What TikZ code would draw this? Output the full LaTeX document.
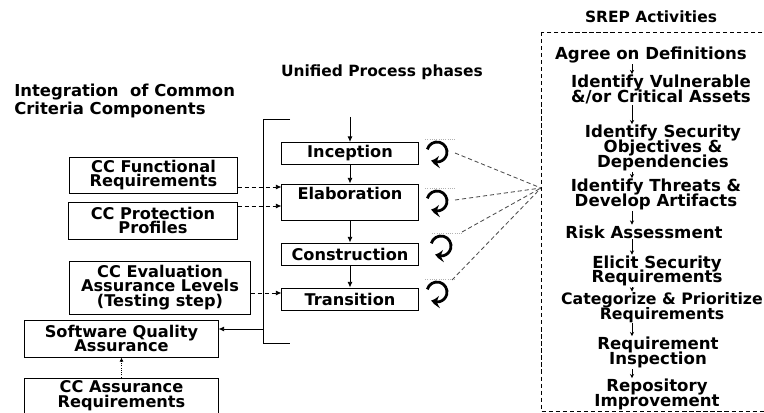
\documentclass[tikz,border=0pt]{standalone}
\usepackage{fontspec}
\setmainfont{DejaVu Sans}
\usetikzlibrary{arrows.meta,bending}

\newcommand\ccboxfont{\fontsize{11.5}{10.5}\selectfont\bfseries\lineskiplimit=-20pt\relax}
\newcommand\srepstepfont{\fontsize{11.8}{10.5}\selectfont\bfseries\lineskiplimit=-20pt\relax}
\newcommand\srepwidefont{\fontsize{11.2}{10.5}\selectfont\bfseries\lineskiplimit=-20pt\relax}
\newcommand\ccheadfont{\fontsize{11}{12.8}\selectfont\bfseries}
\newcommand\cctitlefont{\fontsize{11.7}{12.8}\selectfont\bfseries}

\tikzset{
  ccbox/.style={draw, line width=0.7pt, align=center, inner sep=0pt, font=\ccboxfont},
  phase/.style={draw, line width=0.7pt, minimum width=3.4cm, minimum height=0.55cm, inner sep=0pt, font=\ccboxfont},
  srep/.style={align=center, inner sep=0.5pt, font=\srepstepfont},
  heading/.style={align=left, inner sep=0pt, font=\ccheadfont},
  flow/.style={-{Latex[length=4pt,width=3.5pt]}, line width=0.6pt},
  cclink/.style={densely dashed, -{Latex[length=4pt,width=3.5pt]}, line width=0.6pt},
  stepflow/.style={-{Stealth[length=3pt,width=3pt]}, line width=0.6pt},
  loopy/.style={line width=2pt, -{Stealth[length=6pt,width=8.5pt,bend]}},
  hub/.style={densely dashed, line width=0.6pt, black!70}
}

\begin{document}
\begin{tikzpicture}[x=0.025cm, y=0.025cm]
\useasboundingbox (0,0) rectangle (764,-413);

% headings
\node[heading, anchor=west, font=\cctitlefont] (cchead) at (14,-101) {Integration\ \ of Common\\Criteria Components};
\node[heading] (uphead) at (382,-72) {Unified Process phases};
\node[heading] (srephead) at (651,-17) {SREP Activities};

% Common Criteria components
\node[ccbox, minimum width=4.175cm, minimum height=0.9cm] (fr) at (153.5,-175) {CC Functional\\Requirements};
\node[ccbox, minimum width=4.2cm, minimum height=0.925cm] (pp) at (153,-220.5) {CC Protection\\Profiles};
\node[ccbox, minimum width=4.5cm, minimum height=1.325cm] (eal) at (160,-287.5) {CC Evaluation\\Assurance Levels\\(Testing step)};
\node[ccbox, minimum width=4.825cm, minimum height=0.925cm] (sqa) at (121.5,-338.5) {Software Quality\\Assurance};
\node[ccbox, minimum width=4.825cm, minimum height=0.9cm] (car) at (121.5,-396) {CC Assurance\\Requirements};

% Unified Process phases
\node[phase] (inc) at (350,-153.5) {Inception};
\node[phase, minimum height=0.9cm, text height=0.39cm, text depth=0.51cm] (ela) at (350,-202) {Elaboration};
\node[phase] (con) at (350,-254) {Construction};
\node[phase] (tra) at (350,-299) {Transition};

\coordinate (upin) at (350,-117);
\draw[flow] (upin) -- (inc);
\draw[flow] (inc) -- (ela);
\draw[flow] (ela) -- (con);
\draw[flow] (con) -- (tra);

% bracket round the phases
\coordinate (brtop) at (263,-119);
\coordinate (brbot) at (263,-343);
\draw[line width=0.7pt] (290,-119) -- (brtop) -- (brbot) -- (290,-343);
\coordinate (brq) at (263,-329);
\draw[flow] (brq) -- (brq -| sqa.east);

% CC components into the phases
\coordinate (fra) at ([yshift=-0.3cm]fr.east);
\coordinate (ppa) at ([yshift=0.3625cm]pp.east);
\coordinate (eala) at ([yshift=-0.1375cm]eal.east);
\draw[cclink] (fra) -- (fra -| ela.west);
\draw[cclink] (ppa) -- (ppa -| ela.west);
\draw[cclink] (eala) -- (eala -| tra.west);
\draw[densely dotted, -{Latex[length=3pt,width=3pt]}, line width=0.6pt] (car) -- (sqa);

% iterations
\coordinate (hub) at (541,-188);
\foreach \x/\y/\lx/\dx/\dy [count=\n] in {437/152/440/18/-1, 437/201/440/18/1, 441/246/447/21/14, 437/292/440/15/12} {
  \draw[gray!60, line width=0.6pt, densely dotted] (\lx-15,13-\y) -- (\lx+15,13-\y);
  \draw[loopy] (\x,-\y) ++(165:0.25cm) arc[start angle=165, end angle=-125, radius=0.25cm];
  \coordinate (l\n) at (\x+\dx,\dy-\y);
}
\foreach \n in {1,...,4}
  \draw[hub] (l\n) -- (hub);

% SREP activities
\draw[densely dashed, line width=0.6pt] (541,-32) rectangle (800,-411);
\node[srep] (s1) at (651,-55) {Agree on Definitions};
\node[srep] (s2) at (661,-89.5) {Identify Vulnerable\\\&/or Critical Assets};
\node[srep] (s3) at (663,-148) {Identify Security\\Objectives \&\\Dependencies};
\node[srep] (s4) at (656,-194.5) {Identify Threats \&\\Develop Artifacts};
\node[srep] (s5) at (644,-232) {Risk Assessment};
\node[srep] (s6) at (657,-271) {Elicit Security\\Requirements};
\node[srep, font=\srepwidefont] (s7) at (662,-307.5) {Categorize \& Prioritize\\Requirements};
\node[srep] (s8) at (658,-352.5) {Requirement\\Inspection};
\node[srep] (s9) at (657,-394.5) {Repository\\Improvement};

\coordinate (sx) at (632,0);
\foreach \a/\b in {s1/s2, s2/s3, s3/s4, s4/s5, s5/s6, s6/s7, s7/s8, s8/s9}
  \draw[stepflow] (\a.south -| sx) -- (\b.north -| sx);
\end{tikzpicture}
\end{document}
